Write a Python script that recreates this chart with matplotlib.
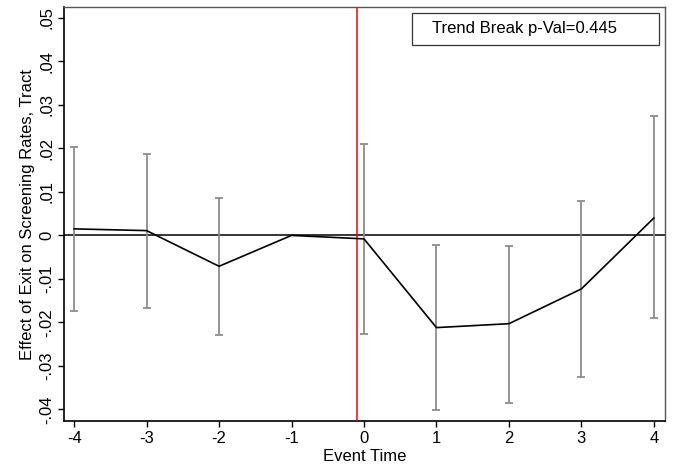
import matplotlib
matplotlib.use("Agg")
import matplotlib.pyplot as plt
from matplotlib.patches import Rectangle

plt.rcParams['font.family'] = ['Liberation Sans', 'DejaVu Sans']

# event-study estimates
event_time = [-4, -3, -2, -1, 0, 1, 2, 3, 4]
coef = [0.0015, 0.0011, -0.0071, 0.0, -0.0008, -0.0212, -0.0203, -0.0123, 0.0040]
ci_hi = [0.0204, 0.0187, 0.0085, None, 0.0209, -0.0022, -0.0024, 0.0079, 0.0274]
ci_lo = [-0.0174, -0.0168, -0.0229, None, -0.0226, -0.0402, -0.0385, -0.0325, -0.0189]

y_ticks = [-0.04, -0.03, -0.02, -0.01, 0, 0.01, 0.02, 0.03, 0.04, 0.05]
y_labels = ["-.04", "-.03", "-.02", "-.01", "0", ".01", ".02", ".03", ".04", ".05"]
break_x = -0.1
p_text = "Trend Break p-Val=0.445"

fig = plt.figure(figsize=(6.75, 4.7), dpi=100)
ax = fig.add_axes([0.0948, 0.104, 0.89, 0.881])

# confidence intervals (skip the omitted period)
xs = [x for x, h in zip(event_time, ci_hi) if h is not None]
lo = [l for l in ci_lo if l is not None]
hi = [h for h in ci_hi if h is not None]
cap = 0.055
ax.vlines(xs, lo, hi, color="#8c8c8c", lw=1.3, zorder=2)
ax.hlines(lo, [x - cap for x in xs], [x + cap for x in xs], color="#8c8c8c", lw=1.3, zorder=2)
ax.hlines(hi, [x - cap for x in xs], [x + cap for x in xs], color="#8c8c8c", lw=1.3, zorder=2)

ax.axhline(0, color="black", lw=1.1, zorder=1)
ax.axvline(break_x, color="red", lw=1.1, zorder=3)
ax.plot(event_time, coef, color="black", lw=1.2, zorder=4)

ax.set_xlim(-4.14, 4.15)
ax.set_ylim(-0.0427, 0.0525)
ax.set_xticks(event_time)
ax.set_xticklabels([str(x) for x in event_time])
ax.set_yticks(y_ticks)
ax.set_yticklabels(y_labels, rotation=90, va="center")
ax.tick_params(direction="out", length=4.5, width=1, labelsize=12, pad=2.5)
ax.set_xlabel("Event Time", fontsize=12, labelpad=2)
ax.set_ylabel("Effect of Exit on Screening Rates, Tract", fontsize=12, labelpad=3)

for s in ["left", "bottom"]:
    ax.spines[s].set_linewidth(1.2)
for s in ["top", "right"]:
    ax.spines[s].set_color("#555555")
    ax.spines[s].set_linewidth(1.0)

# p-value box
ax.add_patch(Rectangle((0.579, 0.908), 0.411, 0.0775, transform=ax.transAxes,
                       facecolor="white", edgecolor="#333333", lw=0.9, zorder=5))
ax.text(0.612, 0.947, p_text, transform=ax.transAxes, ha="left", va="center",
        fontsize=12, zorder=6)

fig.savefig("out.png", dpi=100)
